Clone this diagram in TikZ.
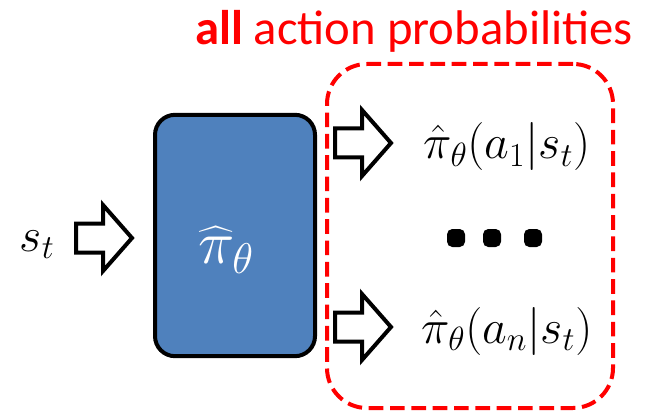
\documentclass[tikz,border=0pt]{standalone}
\usepackage{fix-cm}
\usepackage{amsmath}
\usepackage{fontspec}
\setmainfont{Carlito}
\usetikzlibrary{positioning}
\definecolor{PolicyBlue}{HTML}{4F81BD}
\definecolor{ProbRed}{HTML}{FF0000}

\begin{document}
\begin{tikzpicture}[x=0.75pt,y=-0.75pt,every node/.style={align=center,font=\fontsize{36}{42}\selectfont}]
      \useasboundingbox (0,0) rectangle (648,413);
      \tikzset{blockarrow/.pic={\draw[line width=3pt,fill=white,line join=miter] (-28,-14.5) -- (-1,-14.5) -- (-1,-33) -- (28,0) -- (-1,33) -- (-1,14.5) -- (-28,14.5) -- cycle;}}
      
      \node[draw=ProbRed,line width=3pt,dash pattern=on 11pt off 5pt,rounded corners=30pt,minimum width=214.5pt,minimum height=258pt,inner sep=0pt] (probs) at (470,236) {};
      
      \node[text=ProbRed,anchor=base,font=\fontsize{36.5}{42}\selectfont] (title) at (414,45) {\textbf{all} action probabilities};
      
      \node[draw=black,fill=PolicyBlue,line width=3pt,rounded corners=15pt,minimum width=120pt,minimum height=181pt,inner sep=0pt] (policy) at (235,235.5) {};
      \node[text=white,font=\fontsize{46}{52}\selectfont] (policylbl) at (226,250) {$\widehat{\pi}_{\theta}$};
      
      \node (state) at (37,245) {$s_t$};
      \pic (inarr) at (104,238) {blockarrow};
      
      \pic (outone) at (363,143) {blockarrow};
      \pic (outn) at (363,327) {blockarrow};
      
      \node (probone) at (507,147) {$\hat{\pi}_{\theta}(a_1|s_t)$};
      \node (probn) at (507,331) {$\hat{\pi}_{\theta}(a_n|s_t)$};
      
      \foreach \dx/\nm in {456/dotA,492/dotB,533/dotC}
        \node[fill=black,rounded corners=4pt,minimum size=13.5pt,inner sep=0pt] (\nm) at (\dx,238) {};
    \end{tikzpicture}
\end{document}
